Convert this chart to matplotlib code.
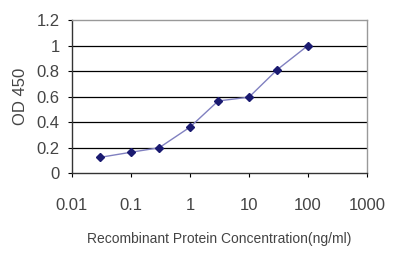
import numpy as np
import matplotlib
matplotlib.use("Agg")
import matplotlib.pyplot as plt

# concentration (ng/ml) vs OD 450
conc = [0.03, 0.1, 0.3, 1, 3, 10, 30, 100]
od = [0.123, 0.163, 0.198, 0.36, 0.565, 0.595, 0.81, 1.0]

xticks = [0.01, 0.1, 1, 10, 100, 1000]
xticklabels = ["0.01", "0.1", "1", "10", "100", "1000"]
yticks = [0, 0.2, 0.4, 0.6, 0.8, 1, 1.2]
yticklabels = ["0", "0.2", "0.4", "0.6", "0.8", "1", "1.2"]

plt.rcParams['font.family'] = ['Liberation Sans', 'DejaVu Sans']
txt = "#444444"

fig = plt.figure(figsize=(4, 2.67), dpi=100)
ax = fig.add_axes([0.18, 0.352, 0.7375, 0.573])

ax.set_xscale("log")
ax.set_xlim(0.01, 1000)
ax.set_ylim(0, 1.2)

for y in yticks[1:-1]:
    ax.axhline(y, color="black", lw=0.9, zorder=1)

ax.plot(conc, od, color="#8080c0", lw=1.0, zorder=2)
ax.plot(conc, od, ls="none", marker="D", ms=4.5, color="#1a1a70", zorder=3)

ax.set_xticks(xticks)
ax.set_xticklabels(xticklabels)
ax.xaxis.set_minor_locator(matplotlib.ticker.NullLocator())
ax.set_yticks(yticks)
ax.set_yticklabels(yticklabels)

ax.tick_params(axis="x", length=3, pad=15, labelsize=12, colors=txt, direction="out")
ax.tick_params(axis="y", length=3, pad=6, labelsize=12, colors=txt, direction="out")
ax.tick_params(color="black")

for s in ["left", "bottom"]:
    ax.spines[s].set_color("#333333")
    ax.spines[s].set_linewidth(1.0)
for s in ["top", "right"]:
    ax.spines[s].set_color("#999999")
    ax.spines[s].set_linewidth(1.0)

ax.set_ylabel("OD 450", fontsize=12, color=txt, labelpad=6)
ax.set_xlabel("Recombinant Protein Concentration(ng/ml)", fontsize=10, color=txt, labelpad=14)

fig.savefig("out.png", dpi=100)
